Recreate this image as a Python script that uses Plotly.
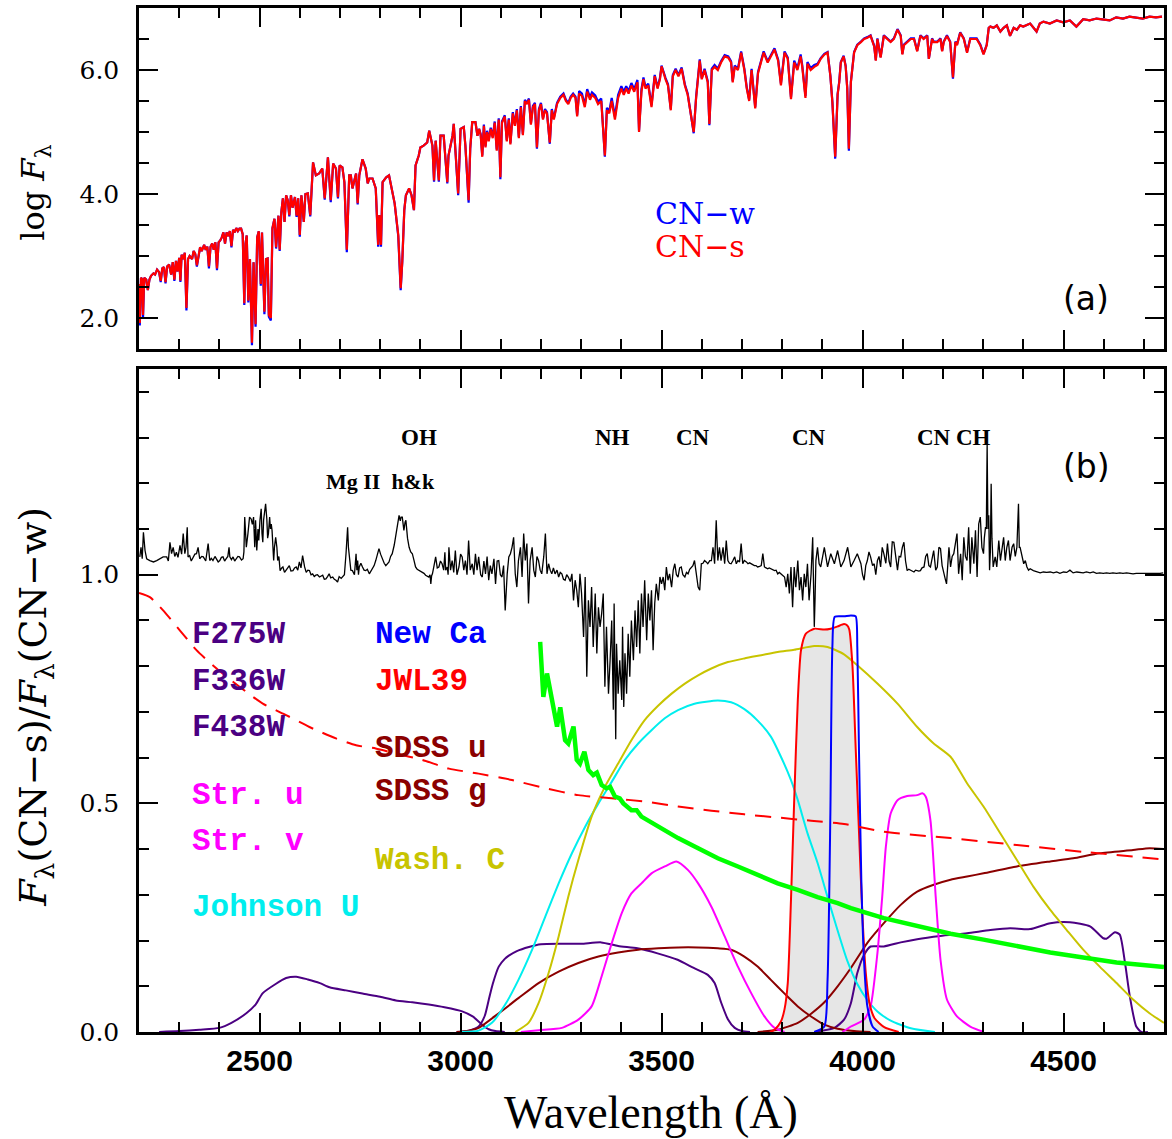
import plotly.graph_objects as go

# ---------------------------------------------------------------------------
# Panel (a): synthetic log flux of the CN-weak and CN-strong models
# ---------------------------------------------------------------------------
WAVE_TOP = [
    2200, 2202, 2205, 2208, 2210, 2213, 2218, 2222, 2226, 2230, 2236, 2240, 2245, 2250, 2254, 2258,
    2262, 2266, 2270, 2275, 2280, 2284, 2288, 2292, 2296, 2300, 2303, 2306, 2310, 2314, 2318, 2322,
    2326, 2332, 2336, 2340, 2344, 2348, 2352, 2356, 2362, 2366, 2370, 2374, 2378, 2382, 2386, 2390,
    2394, 2398, 2402, 2406, 2410, 2414, 2418, 2422, 2426, 2430, 2434, 2438, 2442, 2446, 2450, 2454,
    2458, 2462, 2465, 2468, 2472, 2476, 2481, 2485, 2490, 2494, 2498, 2503, 2506, 2512, 2516, 2520,
    2523, 2528, 2532, 2537, 2541, 2547, 2550, 2554, 2558, 2562, 2566, 2570, 2574, 2578, 2582, 2588,
    2592, 2596, 2600, 2604, 2610, 2614, 2620, 2626, 2633, 2640, 2648, 2656, 2662, 2670, 2677, 2683,
    2690, 2695, 2699, 2706, 2711, 2717, 2723, 2727, 2731, 2740, 2744, 2748, 2756, 2764, 2769, 2773,
    2781, 2789, 2795, 2798, 2802, 2806, 2815, 2822, 2830, 2836, 2845, 2851, 2855, 2860, 2864, 2872,
    2878, 2884, 2888, 2896, 2900, 2908, 2917, 2922, 2930, 2934, 2938, 2946, 2950, 2958, 2967, 2970,
    2980, 2983, 2988, 2994, 3000, 3008, 3012, 3020, 3024, 3029, 3037, 3042, 3046, 3050, 3054, 3058,
    3062, 3066, 3070, 3075, 3080, 3085, 3090, 3095, 3099, 3103, 3110, 3115, 3120, 3124, 3130, 3135,
    3140, 3145, 3150, 3155, 3160, 3165, 3170, 3175, 3180, 3185, 3190, 3195, 3200, 3205, 3210, 3215,
    3222, 3227, 3232, 3240, 3248, 3256, 3262, 3268, 3274, 3280, 3286, 3290, 3295, 3302, 3309, 3315,
    3322, 3327, 3335, 3342, 3350, 3359, 3364, 3370, 3376, 3384, 3392, 3400, 3406, 3412, 3418, 3425,
    3432, 3440, 3444, 3450, 3455, 3460, 3467, 3475, 3483, 3490, 3496, 3500, 3510, 3516, 3523, 3528,
    3535, 3542, 3550, 3558, 3565, 3580, 3586, 3595, 3600, 3607, 3615, 3619, 3625, 3632, 3640, 3648,
    3657, 3666, 3673, 3677, 3682, 3690, 3698, 3706, 3712, 3718, 3724, 3733, 3740, 3748, 3754, 3764,
    3772, 3781, 3790, 3797, 3806, 3814, 3822, 3830, 3838, 3846, 3850, 3858, 3863, 3871, 3880, 3888,
    3896, 3905, 3913, 3920, 3925, 3932, 3938, 3942, 3946, 3953, 3958, 3962, 3966, 3971, 3979, 3987,
    3996, 4004, 4012, 4020, 4029, 4033, 4037, 4045, 4053, 4062, 4070, 4078, 4087, 4095, 4099, 4103,
    4111, 4120, 4128, 4136, 4144, 4152, 4161, 4165, 4173, 4177, 4186, 4194, 4198, 4202, 4210, 4218,
    4225, 4231, 4235, 4243, 4252, 4260, 4268, 4276, 4284, 4293, 4301, 4309, 4314, 4318, 4326, 4334,
    4343, 4351, 4359, 4367, 4376, 4384, 4392, 4400, 4417, 4433, 4441, 4450, 4466, 4483, 4499, 4516,
    4532, 4549, 4565, 4582, 4598, 4615, 4631, 4648, 4664, 4681, 4697, 4714, 4730, 4745,
]

LOGF_CNS = [
    2.55, 1.92, 2.65, 2.62, 2.05, 2.65, 2.62, 2.45, 2.62, 2.68, 2.72, 2.70, 2.78, 2.74, 2.60, 2.80,
    2.82, 2.58, 2.83, 2.86, 2.70, 2.90, 2.62, 2.92, 2.75, 2.97, 2.60, 3.02, 2.95, 3.05, 2.16, 2.95,
    3.00, 2.95, 3.08, 3.03, 2.85, 3.02, 3.14, 3.08, 3.18, 3.10, 3.15, 2.83, 3.15, 3.20, 3.10, 3.22,
    2.80, 3.22, 3.25, 3.30, 3.38, 3.20, 3.38, 3.32, 3.40, 3.16, 3.42, 3.38, 3.45, 3.40, 3.44, 3.44,
    3.35, 2.24, 3.20, 3.33, 2.28, 2.95, 1.60, 2.90, 1.90, 3.30, 3.40, 2.55, 3.38, 2.10, 2.95, 2.96,
    2.05, 2.00, 3.45, 3.60, 3.14, 3.65, 3.10, 3.70, 3.93, 3.55, 3.98, 3.90, 3.66, 3.98, 3.78, 3.95,
    3.65, 3.93, 3.34, 3.98, 3.55, 4.00, 4.01, 3.66, 4.51, 4.30, 4.33, 4.41, 3.93, 4.59, 3.90, 4.49,
    4.41, 3.95, 4.46, 4.43, 4.19, 3.10, 4.30, 4.30, 4.09, 4.33, 3.85, 4.30, 4.56, 4.41, 4.17, 4.25,
    4.25, 4.09, 3.18, 3.66, 3.18, 4.19, 4.27, 4.30, 4.03, 3.85, 3.34, 2.48, 2.91, 3.74, 3.98, 4.09,
    3.98, 3.74, 4.46, 4.62, 4.75, 4.78, 4.83, 5.02, 4.78, 4.22, 4.86, 4.22, 4.94, 4.94, 4.19, 4.62,
    4.94, 5.13, 4.62, 4.01, 5.05, 5.08, 4.78, 3.90, 4.73, 5.16, 5.16, 4.94, 5.05, 4.95, 4.60, 5.10,
    4.75, 5.00, 4.85, 5.05, 4.90, 5.15, 4.70, 5.20, 4.27, 5.15, 5.25, 4.85, 5.20, 4.80, 5.30, 5.10,
    5.35, 4.90, 5.40, 4.95, 5.50, 5.45, 5.52, 5.12, 5.40, 5.45, 4.75, 5.35, 5.45, 5.20, 5.35, 5.30,
    4.83, 5.35, 5.20, 5.45, 5.55, 5.60, 5.50, 5.45, 5.55, 5.60, 5.55, 5.25, 5.62, 5.58, 5.40, 5.65,
    5.52, 5.60, 5.55, 5.45, 5.50, 4.62, 5.35, 5.30, 5.50, 5.20, 5.55, 5.70, 5.60, 5.70, 5.62, 5.75,
    5.65, 5.80, 5.00, 5.65, 5.85, 5.70, 5.75, 5.40, 5.90, 5.70, 5.85, 6.06, 5.85, 5.75, 5.35, 5.90,
    6.00, 5.90, 6.02, 5.75, 5.60, 5.00, 5.55, 6.15, 5.85, 6.00, 5.80, 5.13, 6.00, 6.05, 6.00, 6.12,
    6.22, 6.20, 6.12, 5.80, 6.05, 6.00, 6.28, 6.00, 5.70, 5.50, 6.00, 5.38, 5.95, 6.12, 6.28, 6.12,
    6.22, 6.33, 6.15, 5.75, 6.28, 6.18, 5.53, 6.12, 6.00, 6.22, 6.05, 5.55, 6.10, 6.00, 6.05, 6.08,
    6.18, 6.25, 6.28, 5.90, 5.48, 4.60, 5.60, 5.80, 6.12, 6.22, 6.06, 5.70, 4.73, 5.80, 6.28, 6.40,
    6.45, 6.50, 6.52, 6.55, 6.38, 6.15, 6.50, 6.20, 6.55, 6.50, 6.45, 6.50, 6.65, 6.55, 6.25, 6.40,
    6.45, 6.50, 6.50, 6.30, 6.55, 6.50, 6.55, 6.18, 6.50, 6.45, 6.45, 6.50, 6.30, 6.45, 6.55, 6.45,
    5.88, 6.45, 6.40, 6.60, 6.50, 6.28, 6.50, 6.50, 6.50, 6.40, 6.25, 6.40, 6.68, 6.70, 6.68, 6.72,
    6.62, 6.68, 6.72, 6.55, 6.68, 6.65, 6.72, 6.70, 6.75, 6.62, 6.75, 6.78, 6.75, 6.80, 6.77, 6.80,
    6.70, 6.82, 6.80, 6.83, 6.82, 6.80, 6.85, 6.83, 6.86, 6.85, 6.83, 6.86, 6.85, 6.86,
]

LOGF_CNW = [
    2.55, 1.88, 2.65, 2.62, 2.00, 2.65, 2.62, 2.45, 2.62, 2.68, 2.72, 2.70, 2.78, 2.74, 2.58, 2.80,
    2.82, 2.56, 2.83, 2.86, 2.70, 2.90, 2.60, 2.92, 2.75, 2.97, 2.58, 3.02, 2.95, 3.05, 2.12, 2.95,
    3.00, 2.95, 3.08, 3.03, 2.83, 3.02, 3.14, 3.08, 3.18, 3.10, 3.15, 2.80, 3.15, 3.20, 3.10, 3.22,
    2.77, 3.22, 3.25, 3.30, 3.38, 3.20, 3.38, 3.32, 3.40, 3.14, 3.42, 3.38, 3.45, 3.40, 3.44, 3.44,
    3.35, 2.21, 3.20, 3.33, 2.25, 2.95, 1.56, 2.90, 1.86, 3.30, 3.40, 2.52, 3.38, 2.06, 2.95, 2.96,
    2.02, 1.96, 3.45, 3.60, 3.12, 3.65, 3.08, 3.70, 3.93, 3.55, 3.98, 3.90, 3.64, 3.98, 3.78, 3.95,
    3.63, 3.93, 3.31, 3.98, 3.55, 4.00, 4.01, 3.64, 4.51, 4.30, 4.33, 4.41, 3.91, 4.59, 3.87, 4.49,
    4.41, 3.93, 4.46, 4.43, 4.19, 3.06, 4.30, 4.30, 4.09, 4.33, 3.83, 4.30, 4.56, 4.41, 4.17, 4.25,
    4.25, 4.09, 3.15, 3.66, 3.15, 4.19, 4.27, 4.30, 4.03, 3.85, 3.32, 2.45, 2.91, 3.74, 3.98, 4.09,
    3.98, 3.74, 4.46, 4.62, 4.75, 4.78, 4.83, 5.02, 4.78, 4.20, 4.86, 4.20, 4.94, 4.94, 4.17, 4.62,
    4.94, 5.13, 4.62, 3.98, 5.05, 5.08, 4.78, 3.86, 4.73, 5.16, 5.16, 4.94, 5.05, 4.97, 4.62, 5.12,
    4.77, 5.02, 4.87, 5.07, 4.92, 5.17, 4.72, 5.22, 4.24, 5.17, 5.27, 4.87, 5.22, 4.82, 5.32, 5.12,
    5.37, 4.92, 5.42, 4.97, 5.52, 5.47, 5.54, 5.14, 5.42, 5.47, 4.73, 5.37, 5.47, 5.22, 5.37, 5.32,
    4.81, 5.37, 5.22, 5.47, 5.57, 5.62, 5.52, 5.47, 5.57, 5.62, 5.57, 5.27, 5.66, 5.62, 5.44, 5.69,
    5.56, 5.64, 5.59, 5.49, 5.54, 4.60, 5.39, 5.34, 5.55, 5.25, 5.60, 5.74, 5.65, 5.74, 5.66, 5.79,
    5.69, 5.84, 5.02, 5.69, 5.88, 5.73, 5.78, 5.43, 5.92, 5.72, 5.87, 6.07, 5.87, 5.77, 5.37, 5.92,
    6.02, 5.92, 6.04, 5.77, 5.62, 4.98, 5.57, 6.17, 5.87, 6.02, 5.82, 5.11, 6.02, 6.08, 6.02, 6.14,
    6.24, 6.22, 6.14, 5.82, 6.07, 6.02, 6.30, 6.02, 5.72, 5.52, 6.02, 5.40, 5.97, 6.14, 6.30, 6.14,
    6.24, 6.35, 6.17, 5.78, 6.30, 6.20, 5.56, 6.15, 6.03, 6.25, 6.08, 5.58, 6.13, 6.03, 6.08, 6.10,
    6.19, 6.26, 6.29, 5.91, 5.49, 4.57, 5.61, 5.81, 6.13, 6.23, 6.07, 5.71, 4.70, 5.81, 6.29, 6.41,
    6.46, 6.51, 6.53, 6.56, 6.39, 6.16, 6.51, 6.21, 6.56, 6.51, 6.46, 6.51, 6.66, 6.56, 6.26, 6.41,
    6.46, 6.51, 6.51, 6.31, 6.56, 6.51, 6.56, 6.18, 6.51, 6.46, 6.46, 6.51, 6.31, 6.46, 6.56, 6.46,
    5.86, 6.46, 6.41, 6.61, 6.51, 6.29, 6.51, 6.51, 6.51, 6.41, 6.26, 6.41, 6.68, 6.70, 6.68, 6.72,
    6.62, 6.68, 6.72, 6.55, 6.68, 6.65, 6.72, 6.70, 6.75, 6.62, 6.75, 6.78, 6.75, 6.80, 6.77, 6.80,
    6.70, 6.82, 6.80, 6.83, 6.82, 6.80, 6.85, 6.83, 6.86, 6.85, 6.83, 6.86, 6.85, 6.86,
]

# ---------------------------------------------------------------------------
# Panel (b): flux ratio CN-s / CN-w
# ---------------------------------------------------------------------------
WAVE_RATIO = [
    2202, 2205, 2208, 2211, 2215, 2219, 2227, 2236, 2244, 2252, 2260, 2269, 2273, 2277, 2281, 2285,
    2289, 2293, 2297, 2302, 2306, 2310, 2314, 2317, 2320, 2322, 2326, 2330, 2335, 2339, 2343, 2347,
    2351, 2356, 2360, 2366, 2372, 2376, 2380, 2384, 2389, 2393, 2397, 2401, 2405, 2409, 2413, 2417,
    2421, 2424, 2426, 2430, 2434, 2438, 2442, 2446, 2450, 2455, 2459, 2461, 2463, 2465, 2467, 2471,
    2475, 2479, 2482, 2485, 2488, 2490, 2493, 2496, 2498, 2501, 2504, 2506, 2508, 2510, 2512, 2515,
    2518, 2520, 2522, 2525, 2527, 2529, 2531, 2535, 2537, 2540, 2543, 2545, 2548, 2551, 2555, 2558,
    2562, 2566, 2570, 2574, 2578, 2583, 2587, 2591, 2595, 2599, 2603, 2607, 2610, 2612, 2616, 2620,
    2624, 2628, 2632, 2636, 2640, 2644, 2649, 2653, 2657, 2661, 2665, 2669, 2673, 2677, 2682, 2686,
    2690, 2694, 2698, 2703, 2707, 2711, 2715, 2717, 2719, 2721, 2723, 2727, 2731, 2736, 2740, 2742,
    2744, 2746, 2748, 2752, 2756, 2760, 2764, 2768, 2773, 2777, 2781, 2785, 2789, 2793, 2797, 2801,
    2806, 2810, 2814, 2818, 2822, 2826, 2830, 2835, 2839, 2843, 2847, 2850, 2852, 2855, 2857, 2859,
    2862, 2864, 2868, 2872, 2876, 2880, 2884, 2888, 2892, 2897, 2901, 2905, 2909, 2913, 2917, 2921,
    2924, 2926, 2928, 2930, 2934, 2938, 2942, 2946, 2950, 2954, 2958, 2961, 2963, 2967, 2969, 2971,
    2975, 2979, 2983, 2987, 2991, 2996, 3000, 3004, 3008, 3012, 3016, 3020, 3024, 3029, 3033, 3037,
    3041, 3045, 3050, 3054, 3058, 3062, 3066, 3070, 3074, 3078, 3083, 3087, 3091, 3095, 3099, 3103,
    3107, 3111, 3116, 3120, 3124, 3128, 3132, 3136, 3140, 3144, 3149, 3153, 3157, 3161, 3165, 3169,
    3173, 3178, 3182, 3186, 3190, 3194, 3198, 3202, 3207, 3211, 3215, 3219, 3223, 3227, 3231, 3235,
    3240, 3244, 3248, 3252, 3256, 3260, 3264, 3268, 3273, 3277, 3281, 3285, 3289, 3293, 3297, 3301,
    3306, 3310, 3314, 3318, 3322, 3326, 3330, 3335, 3339, 3343, 3347, 3351, 3355, 3359, 3363, 3368,
    3372, 3376, 3380, 3382, 3386, 3388, 3392, 3396, 3401, 3403, 3406, 3409, 3413, 3417, 3421, 3425,
    3430, 3434, 3438, 3442, 3446, 3450, 3454, 3458, 3463, 3467, 3471, 3475, 3479, 3483, 3487, 3492,
    3496, 3500, 3504, 3508, 3512, 3516, 3520, 3525, 3529, 3533, 3537, 3541, 3545, 3549, 3553, 3558,
    3562, 3566, 3570, 3574, 3578, 3582, 3587, 3591, 3595, 3599, 3603, 3607, 3611, 3615, 3620, 3624,
    3628, 3632, 3636, 3638, 3640, 3644, 3648, 3653, 3657, 3661, 3665, 3669, 3673, 3677, 3682, 3686,
    3690, 3694, 3698, 3702, 3706, 3711, 3715, 3719, 3723, 3727, 3731, 3735, 3739, 3744, 3748, 3752,
    3756, 3760, 3764, 3768, 3772, 3777, 3781, 3785, 3789, 3793, 3797, 3802, 3806, 3810, 3814, 3818,
    3822, 3826, 3830, 3834, 3839, 3843, 3847, 3851, 3855, 3859, 3863, 3867, 3872, 3876, 3878, 3880,
    3882, 3884, 3888, 3892, 3896, 3905, 3913, 3921, 3930, 3938, 3946, 3954, 3963, 3971, 3979, 3987,
    3996, 4000, 4004, 4008, 4012, 4016, 4020, 4025, 4029, 4033, 4037, 4041, 4045, 4049, 4053, 4058,
    4062, 4066, 4070, 4074, 4078, 4082, 4087, 4091, 4095, 4099, 4103, 4107, 4111, 4115, 4120, 4124,
    4128, 4132, 4136, 4140, 4144, 4148, 4153, 4157, 4161, 4165, 4169, 4173, 4177, 4182, 4186, 4190,
    4194, 4198, 4202, 4206, 4209, 4212, 4215, 4219, 4223, 4227, 4231, 4235, 4239, 4244, 4248, 4252,
    4256, 4260, 4264, 4268, 4272, 4277, 4281, 4285, 4289, 4293, 4297, 4301, 4303, 4306, 4308, 4310,
    4312, 4314, 4316, 4318, 4320, 4322, 4325, 4330, 4334, 4339, 4343, 4347, 4351, 4355, 4359, 4363,
    4367, 4372, 4376, 4380, 4384, 4388, 4390, 4392, 4396, 4401, 4405, 4409, 4413, 4417, 4425, 4434,
    4442, 4450, 4458, 4467, 4475, 4483, 4491, 4500, 4508, 4516, 4524, 4533, 4541, 4549, 4557, 4566,
    4574, 4582, 4590, 4599, 4607, 4615, 4623, 4632, 4640, 4648, 4657, 4665, 4673, 4681, 4690, 4698,
    4706, 4715, 4723, 4731, 4740, 4748,
]

RATIO = [
    1.039, 1.060, 1.035, 1.093, 1.053, 1.035, 1.031, 1.028, 1.031, 1.035, 1.039, 1.039, 1.030, 1.071, 1.046, 1.060,
    1.040, 1.049, 1.038, 1.064, 1.045, 1.090, 1.046, 1.060, 1.104, 1.039, 1.042, 1.030, 1.039, 1.045, 1.046, 1.060,
    1.035, 1.040, 1.039, 1.030, 1.068, 1.031, 1.036, 1.031, 1.040, 1.035, 1.028, 1.031, 1.038, 1.039, 1.030, 1.035,
    1.040, 1.060, 1.039, 1.033, 1.039, 1.030, 1.035, 1.040, 1.039, 1.032, 1.035, 1.050, 1.126, 1.080, 1.060, 1.090,
    1.126, 1.122, 1.110, 1.126, 1.060, 1.119, 1.053, 1.100, 1.075, 1.120, 1.144, 1.090, 1.071, 1.120, 1.137, 1.155,
    1.122, 1.080, 1.090, 1.126, 1.100, 1.111, 1.097, 1.031, 1.060, 1.082, 1.060, 1.031, 1.040, 1.009, 1.015, 1.017,
    1.005, 1.009, 1.015, 1.020, 1.008, 1.009, 1.015, 1.017, 1.010, 1.028, 1.015, 1.042, 1.020, 1.017, 1.005, 1.010,
    1.009, 1.000, 1.002, 0.996, 0.999, 1.000, 0.995, 0.998, 0.999, 0.990, 0.991, 0.996, 1.002, 0.993, 0.995, 0.990,
    0.988, 0.984, 0.996, 0.992, 0.995, 1.000, 1.046, 1.080, 1.104, 1.060, 1.046, 1.010, 1.009, 1.000, 1.046, 1.010,
    1.031, 1.000, 1.017, 1.025, 1.017, 1.010, 1.009, 1.012, 1.002, 1.008, 1.013, 1.020, 1.031, 1.045, 1.057, 1.045,
    1.031, 1.025, 1.020, 1.023, 1.028, 1.040, 1.046, 1.065, 1.090, 1.110, 1.130, 1.118, 1.126, 1.126, 1.110, 1.097,
    1.115, 1.119, 1.080, 1.060, 1.050, 1.046, 1.032, 1.017, 1.012, 1.009, 1.008, 1.006, 1.003, 0.999, 0.996, 0.995,
    1.000, 0.980, 0.998, 1.002, 1.020, 1.039, 1.015, 1.017, 1.030, 1.024, 1.010, 1.049, 1.010, 1.017, 1.000, 1.060,
    1.010, 1.031, 1.005, 1.053, 1.000, 1.017, 1.045, 1.039, 1.010, 1.031, 1.000, 1.075, 1.010, 1.024, 1.000, 1.046,
    1.010, 1.039, 1.000, 0.995, 1.030, 1.002, 1.040, 0.988, 1.020, 1.002, 1.035, 0.980, 1.030, 1.031, 1.000, 0.995,
    1.020, 0.922, 1.002, 1.039, 1.046, 1.060, 1.082, 1.002, 0.973, 1.031, 1.060, 0.995, 1.090, 1.031, 1.068, 0.937,
    1.031, 1.060, 1.010, 0.995, 1.040, 1.031, 1.010, 1.002, 1.040, 1.090, 1.002, 1.024, 1.010, 1.002, 1.015, 1.002,
    1.010, 0.995, 1.005, 1.002, 0.990, 0.988, 1.000, 0.995, 0.985, 1.002, 0.944, 0.988, 0.966, 0.929, 1.002, 0.959,
    0.864, 0.995, 0.777, 0.944, 0.886, 0.973, 0.842, 0.959, 0.828, 0.929, 0.886, 0.915, 0.959, 0.755, 0.886, 0.740,
    0.813, 0.900, 0.705, 0.937, 0.640, 0.849, 0.740, 0.813, 0.726, 0.886, 0.711, 0.828, 0.740, 0.871, 0.777, 0.900,
    0.813, 0.922, 0.842, 0.944, 0.828, 0.959, 0.886, 0.988, 0.857, 0.959, 0.900, 0.966, 0.835, 0.937, 0.980, 0.944,
    0.995, 0.980, 0.995, 0.966, 1.017, 0.988, 1.002, 0.973, 1.010, 1.024, 1.000, 0.995, 1.015, 1.017, 1.000, 0.995,
    1.005, 1.002, 1.012, 1.017, 1.020, 1.031, 0.995, 0.973, 0.966, 1.024, 1.025, 1.031, 1.028, 1.024, 1.031, 1.031,
    1.060, 1.024, 1.119, 1.040, 1.031, 1.060, 1.031, 1.060, 1.024, 1.075, 1.031, 1.025, 1.024, 1.030, 1.039, 1.024,
    1.031, 1.028, 1.068, 1.024, 1.031, 1.028, 1.024, 1.026, 1.024, 1.022, 1.020, 1.020, 1.017, 1.018, 1.020, 1.046,
    1.017, 1.015, 1.013, 1.015, 1.013, 1.012, 1.009, 1.010, 1.002, 1.005, 1.002, 0.998, 0.995, 0.973, 1.002, 0.959,
    1.017, 0.929, 1.017, 0.973, 1.031, 0.966, 0.995, 0.944, 1.002, 0.973, 1.024, 0.944, 1.002, 1.082, 0.944, 0.886,
    0.950, 1.031, 1.060, 1.024, 1.017, 1.060, 1.017, 1.046, 1.024, 1.053, 1.017, 1.031, 1.060, 1.017, 1.031, 1.046,
    1.024, 1.000, 0.988, 1.020, 1.031, 1.050, 1.039, 1.020, 1.024, 1.000, 1.031, 1.040, 1.017, 1.060, 1.046, 1.025,
    1.068, 1.030, 1.017, 1.072, 1.071, 1.040, 1.010, 1.040, 1.039, 1.060, 1.071, 1.030, 1.009, 1.012, 1.009, 1.008,
    1.006, 1.010, 1.009, 1.008, 1.009, 1.015, 1.017, 1.040, 1.046, 1.020, 1.017, 1.040, 1.053, 1.010, 1.017, 1.060,
    1.057, 1.020, 1.002, 0.990, 0.980, 1.030, 1.060, 1.017, 1.040, 1.046, 1.070, 1.090, 1.002, 1.046, 0.988, 1.082,
    1.040, 1.031, 1.104, 1.002, 1.082, 1.024, 1.097, 0.995, 1.111, 1.126, 1.060, 1.046, 1.080, 1.104, 1.100, 1.286,
    1.100, 1.130, 1.010, 1.050, 1.199, 1.080, 1.017, 1.039, 1.017, 1.075, 1.031, 1.060, 1.082, 1.031, 1.060, 1.075,
    1.031, 1.060, 1.068, 1.040, 1.060, 1.155, 1.060, 1.060, 1.046, 1.024, 1.031, 1.017, 1.010, 1.013, 1.009, 1.006,
    1.004, 1.006, 1.005, 1.006, 1.004, 1.006, 1.003, 1.006, 1.005, 1.010, 1.004, 1.006, 1.005, 1.004, 1.006, 1.004,
    1.006, 1.003, 1.004, 1.003, 1.004, 1.003, 1.004, 1.003, 1.004, 1.003, 1.004, 1.003, 1.002, 1.003, 1.003, 1.002,
    1.003, 1.002, 1.003, 1.002, 1.003, 1.004,
]

# Spectral energy curve (dashed) and the CN-sensitivity curve (green)
DASH_WAVE = [2200, 2227, 2260, 2302, 2343, 2393, 2450, 2508, 2566, 2624, 2690, 2740, 2789, 2839, 2905, 2971,
             3045, 3128, 3211, 3293, 3376, 3458, 3541, 3624, 3706, 3789, 3872, 3954, 4053, 4219, 4384, 4549, 4750]
DASH_VAL = [0.960, 0.951, 0.922, 0.878, 0.835, 0.795, 0.755, 0.718, 0.693, 0.667, 0.642, 0.627, 0.620, 0.609, 0.595, 0.576,
            0.565, 0.551, 0.533, 0.518, 0.511, 0.504, 0.493, 0.484, 0.476, 0.469, 0.462, 0.455, 0.438, 0.424, 0.409, 0.394, 0.377]

GREEN_WAVE = [3198, 3206, 3215, 3227, 3240, 3248, 3260, 3268, 3281, 3289, 3297, 3308, 3318, 3330, 3339, 3351,
              3363, 3372, 3384, 3396, 3405, 3425, 3438, 3450, 3492, 3541, 3591, 3640, 3690, 3739, 3789, 3839,
              3888, 3938, 3971, 4053, 4136, 4219, 4301, 4384, 4467, 4549, 4632, 4750]
GREEN_VAL = [0.853, 0.733, 0.784, 0.726, 0.668, 0.710, 0.638, 0.631, 0.668, 0.595, 0.587, 0.613, 0.573, 0.562, 0.567, 0.540,
             0.533, 0.536, 0.515, 0.511, 0.500, 0.485, 0.485, 0.471, 0.449, 0.424, 0.402, 0.380, 0.362, 0.344, 0.325, 0.311,
             0.295, 0.282, 0.271, 0.249, 0.231, 0.215, 0.202, 0.187, 0.174, 0.163, 0.152, 0.142]

# ---------------------------------------------------------------------------
# Filter transmission curves
# ---------------------------------------------------------------------------
F275W_WAVE = [2250, 2300, 2350, 2400, 2430, 2467, 2490, 2508, 2540, 2566, 2591, 2620, 2650, 2674, 2715, 2756,
              2800, 2839, 2880, 2921, 2960, 3004, 3030, 3054, 3070, 3087, 3110]
F275W_T = [0.000, 0.002, 0.005, 0.009, 0.020, 0.041, 0.060, 0.085, 0.105, 0.118, 0.121, 0.115, 0.107, 0.098, 0.091, 0.084,
           0.077, 0.069, 0.065, 0.060, 0.054, 0.045, 0.034, 0.016, 0.006, 0.002, 0.000]

F336W_WAVE = [2990, 3020, 3045, 3060, 3070, 3080, 3095, 3110, 3120, 3140, 3170, 3200, 3250, 3300, 3350, 3392,
              3440, 3490, 3540, 3580, 3615, 3632, 3648, 3665, 3682, 3700, 3720]
F336W_T = [0.000, 0.003, 0.012, 0.035, 0.070, 0.105, 0.143, 0.160, 0.167, 0.177, 0.186, 0.192, 0.193, 0.193, 0.196, 0.188,
           0.183, 0.172, 0.158, 0.140, 0.125, 0.107, 0.065, 0.028, 0.009, 0.002, 0.000]

F438W_WAVE = [3880, 3930, 3954, 3971, 3987, 4004, 4020, 4053, 4095, 4136, 4194, 4260, 4318, 4367, 4417, 4467,
              4516, 4566, 4599, 4607, 4628, 4640, 4653, 4665, 4681, 4694, 4710]
F438W_T = [0.000, 0.009, 0.027, 0.063, 0.129, 0.169, 0.187, 0.187, 0.196, 0.203, 0.210, 0.216, 0.223, 0.227, 0.225, 0.238,
           0.240, 0.231, 0.205, 0.204, 0.218, 0.213, 0.151, 0.078, 0.012, 0.000, 0.000]

JOHNSON_U_WAVE = [3000, 3045, 3078, 3111, 3144, 3178, 3211, 3244, 3277, 3310, 3343, 3376, 3409, 3442, 3475, 3508,
                  3541, 3582, 3640, 3673, 3706, 3739, 3772, 3797, 3822, 3839, 3863, 3888, 3913, 3938, 3962, 3987,
                  4012, 4037, 4070, 4120, 4180]
JOHNSON_U_T = [0.000, 0.003, 0.020, 0.060, 0.114, 0.180, 0.253, 0.325, 0.391, 0.449, 0.500, 0.547, 0.595, 0.631, 0.660, 0.686,
               0.704, 0.718, 0.725, 0.721, 0.706, 0.681, 0.646, 0.602, 0.551, 0.507, 0.435, 0.370, 0.295, 0.222, 0.156, 0.105,
               0.070, 0.045, 0.025, 0.008, 0.000]

WASH_C_WAVE = [3136, 3169, 3194, 3219, 3244, 3268, 3293, 3326, 3359, 3392, 3425, 3458, 3492, 3525, 3558, 3591,
               3624, 3665, 3706, 3748, 3789, 3830, 3880, 3913, 3954, 3987, 4037, 4087, 4136, 4177, 4219, 4260,
               4301, 4343, 4384, 4425, 4467, 4508, 4549, 4590, 4632, 4673, 4714, 4750]
WASH_C_T = [0.000, 0.020, 0.063, 0.129, 0.209, 0.296, 0.376, 0.471, 0.536, 0.587, 0.638, 0.682, 0.714, 0.740, 0.762, 0.780,
            0.795, 0.809, 0.817, 0.824, 0.831, 0.836, 0.844, 0.842, 0.826, 0.802, 0.762, 0.718, 0.667, 0.631, 0.602, 0.544,
            0.493, 0.434, 0.376, 0.318, 0.267, 0.223, 0.180, 0.143, 0.107, 0.071, 0.041, 0.020]

SDSS_U_WAVE = [2990, 3020, 3045, 3095, 3144, 3194, 3244, 3293, 3343, 3392, 3442, 3492, 3541, 3591, 3640, 3673,
               3706, 3739, 3772, 3806, 3839, 3872, 3905, 3938, 3979, 4020]
SDSS_U_T = [0.000, 0.003, 0.009, 0.041, 0.074, 0.107, 0.132, 0.151, 0.165, 0.174, 0.180, 0.183, 0.185, 0.185, 0.183, 0.180,
            0.165, 0.143, 0.114, 0.084, 0.056, 0.034, 0.016, 0.007, 0.002, 0.000]

SDSS_G_WAVE = [3739, 3789, 3839, 3872, 3905, 3938, 3971, 4012, 4053, 4095, 4136, 4177, 4219, 4260, 4301, 4384,
               4467, 4524, 4590, 4673, 4714, 4750]
SDSS_G_T = [0.000, 0.005, 0.020, 0.040, 0.065, 0.100, 0.140, 0.195, 0.238, 0.278, 0.307, 0.322, 0.333, 0.340, 0.347, 0.362,
            0.373, 0.380, 0.391, 0.398, 0.402, 0.400]

STR_U_WAVE = [3150, 3194, 3252, 3293, 3326, 3351, 3376, 3401, 3425, 3450, 3475, 3508, 3537, 3566, 3591, 3624,
              3657, 3690, 3723, 3756, 3781, 3806]
STR_U_T = [0.000, 0.004, 0.009, 0.027, 0.056, 0.122, 0.194, 0.260, 0.303, 0.325, 0.347, 0.362, 0.373, 0.354, 0.325, 0.274,
           0.209, 0.143, 0.085, 0.034, 0.009, 0.000]

STR_V_WAVE = [3950, 3971, 4004, 4020, 4037, 4049, 4058, 4070, 4087, 4111, 4136, 4149, 4157, 4169, 4182, 4194,
              4210, 4235, 4268, 4301]
STR_V_T = [0.000, 0.012, 0.027, 0.056, 0.172, 0.296, 0.405, 0.478, 0.507, 0.516, 0.518, 0.522, 0.515, 0.463, 0.296, 0.158,
           0.071, 0.034, 0.012, 0.000]

JWL39_WAVE = [3770, 3781, 3797, 3806, 3814, 3822, 3830, 3839, 3847, 3859, 3880, 3905, 3921, 3938, 3954, 3962,
              3967, 3975, 3983, 3992, 4000, 4008, 4018, 4030, 4055, 4090]
JWL39_T = [0.000, 0.005, 0.023, 0.050, 0.107, 0.289, 0.507, 0.726, 0.835, 0.871, 0.882, 0.880, 0.882, 0.887, 0.892, 0.889,
           0.880, 0.800, 0.620, 0.420, 0.250, 0.130, 0.060, 0.030, 0.010, 0.000]

NEW_CA_WAVE = [3880, 3905, 3913, 3920, 3925, 3931, 3954, 3971, 3983, 3987, 3991, 3997, 4004, 4012, 4025, 4040]
NEW_CA_T = [0.000, 0.012, 0.114, 0.478, 0.842, 0.908, 0.909, 0.911, 0.909, 0.842, 0.624, 0.333, 0.151, 0.056, 0.012, 0.000]

# Colours
INDIGO = "#4b0082"
MAGENTA = "#ff00ff"
CYAN = "#00eeee"
BLUE = "#0000ff"
RED = "#ff0000"
DARKRED = "#8b0000"
OLIVE = "#c8c400"
GREEN = "#00ff00"

fig = go.Figure()

# --- panel (a) ---
fig.add_trace(go.Scatter(x=WAVE_TOP, y=LOGF_CNW, mode="lines", line=dict(color=BLUE, width=2.2),
                         xaxis="x", yaxis="y", name="CN-w"))
fig.add_trace(go.Scatter(x=WAVE_TOP, y=LOGF_CNS, mode="lines", line=dict(color=RED, width=2.2),
                         xaxis="x", yaxis="y", name="CN-s"))

# --- panel (b) ---
fig.add_trace(go.Scatter(x=JWL39_WAVE, y=JWL39_T, mode="lines", fill="tozeroy", fillcolor="#e6e6e6",
                         line=dict(width=0, color="rgba(0,0,0,0)"), xaxis="x2", yaxis="y2", hoverinfo="skip"))
fig.add_trace(go.Scatter(x=WAVE_RATIO, y=RATIO, mode="lines", line=dict(color="black", width=1.3),
                         xaxis="x2", yaxis="y2", name="ratio"))

filters = [
    (F275W_WAVE, F275W_T, INDIGO),
    (F336W_WAVE, F336W_T, INDIGO),
    (F438W_WAVE, F438W_T, INDIGO),
    (SDSS_U_WAVE, SDSS_U_T, DARKRED),
    (SDSS_G_WAVE, SDSS_G_T, DARKRED),
    (JOHNSON_U_WAVE, JOHNSON_U_T, CYAN),
    (WASH_C_WAVE, WASH_C_T, OLIVE),
    (STR_U_WAVE, STR_U_T, MAGENTA),
    (STR_V_WAVE, STR_V_T, MAGENTA),
    (JWL39_WAVE, JWL39_T, RED),
    (NEW_CA_WAVE, NEW_CA_T, BLUE),
]
for wave, thr, col in filters:
    fig.add_trace(go.Scatter(x=wave, y=thr, mode="lines", line=dict(color=col, width=2, shape="spline", smoothing=0.6),
                             xaxis="x2", yaxis="y2"))

fig.add_trace(go.Scatter(x=DASH_WAVE, y=DASH_VAL, mode="lines",
                         line=dict(color=RED, width=2, dash="16px,10px", shape="spline", smoothing=0.6),
                         xaxis="x2", yaxis="y2"))
fig.add_trace(go.Scatter(x=GREEN_WAVE, y=GREEN_VAL, mode="lines", line=dict(color=GREEN, width=4.5),
                         xaxis="x2", yaxis="y2"))

# --- axes ---
frame = dict(showline=True, linewidth=2.5, linecolor="black", mirror="allticks", ticks="inside",
             ticklen=19, tickwidth=2, tickcolor="black", showgrid=False, zeroline=False)
xminor = dict(dtick=100, ticks="inside", ticklen=10, tickwidth=2, tickcolor="black", showgrid=False)

fig.update_layout(
    width=1172, height=1139,
    margin=dict(l=139, r=6, t=5, b=107),
    paper_bgcolor="white", plot_bgcolor="white",
    showlegend=False,
    xaxis=dict(domain=[0, 1], anchor="y", range=[2200, 4750], dtick=500, tick0=0,
               showticklabels=False, minor=xminor, **frame),
    yaxis=dict(domain=[0.667, 1], anchor="x", range=[1.5, 7.0], dtick=2, tick0=0, tickformat=".1f",
               ticklabelstandoff=12,
               tickfont=dict(family="DejaVu Serif", size=25, color="black"),
               minor=dict(dtick=0.5, ticks="inside", ticklen=10, tickwidth=2, tickcolor="black", showgrid=False),
               **frame),
    xaxis2=dict(domain=[0, 1], anchor="y2", range=[2200, 4750], dtick=500, tick0=0,
                ticklabelstandoff=0,
                tickfont=dict(family="Liberation Sans", size=30, color="black", weight="bold"),
                minor=xminor, **frame),
    yaxis2=dict(domain=[0, 0.6475], anchor="x2", range=[0, 1.45], dtick=0.5, tick0=0, tickformat=".1f",
                ticklabelstandoff=12,
                tickfont=dict(family="DejaVu Serif", size=25, color="black"),
                minor=dict(dtick=0.1, ticks="inside", ticklen=10, tickwidth=2, tickcolor="black", showgrid=False),
                **frame),
)

ann = []

def label(text, x, y, color, size, family, xref="x2", yref="y2", xanchor="left", weight="normal", angle=0):
    ann.append(dict(text=text, x=x, y=y, xref=xref, yref=yref, xanchor=xanchor, yanchor="middle",
                    showarrow=False, textangle=angle,
                    font=dict(color=color, size=size, family=family, weight=weight)))

mono = "Liberation Mono, Courier New, monospace"
# Filter names
label("F275W", 2326, 0.870, INDIGO, 31, mono, weight="bold")
label("F336W", 2326, 0.767, INDIGO, 31, mono, weight="bold")
label("F438W", 2326, 0.667, INDIGO, 31, mono, weight="bold")
label("Str. u", 2326, 0.518, MAGENTA, 31, mono, weight="bold")
label("Str. v", 2326, 0.416, MAGENTA, 31, mono, weight="bold")
label("Johnson U", 2326, 0.272, CYAN, 31, mono, weight="bold")
label("New Ca", 2782, 0.870, BLUE, 31, mono, weight="bold")
label("JWL39", 2782, 0.767, RED, 31, mono, weight="bold")
label("SDSS u", 2782, 0.621, DARKRED, 31, mono, weight="bold")
label("SDSS g", 2782, 0.525, DARKRED, 31, mono, weight="bold")
label("Wash. C", 2782, 0.376, OLIVE, 31, mono, weight="bold")

# Molecular band identifications
serif = "Liberation Serif, DejaVu Serif, serif"
label("OH", 2897, 1.300, "black", 23, serif, xanchor="center", weight="bold")
label("Mg II  h&amp;k", 2800, 1.204, "black", 22, serif, xanchor="center", weight="bold")
label("NH", 3377, 1.300, "black", 23, serif, xanchor="center", weight="bold")
label("CN", 3578, 1.300, "black", 23, serif, xanchor="center", weight="bold")
label("CN", 3868, 1.300, "black", 23, serif, xanchor="center", weight="bold")
label("CN CH", 4228, 1.300, "black", 23, serif, xanchor="center", weight="bold")

# Panel tags
label("(b)", 4557, 1.237, "black", 33, "DejaVu Sans", xanchor="center")
label("(a)", 4557, 2.32, "black", 33, "DejaVu Sans", xref="x", yref="y", xanchor="center")

# Model names in panel (a)
label("CN−w", 3479, 3.68, BLUE, 30, "DejaVu Serif", xref="x", yref="y")
label("CN−s", 3479, 3.15, RED, 30, "DejaVu Serif", xref="x", yref="y")

# Axis titles
label("log <i>F</i><sub>λ</sub>", -0.101, 0.82, "black", 32, "DejaVu Serif",
      xref="paper", yref="paper", xanchor="center", angle=-90)
label("<i>F</i><sub>λ</sub>(CN−s)/<i>F</i><sub>λ</sub>(CN−w)", -0.101, 0.318, "black", 38, "DejaVu Serif",
      xref="paper", yref="paper", xanchor="center", angle=-90)
label("Wavelength (Å)", 0.4995, -0.079, "black", 46, "Liberation Serif, DejaVu Serif",
      xref="paper", yref="paper", xanchor="center")

fig.update_layout(annotations=ann)
fig.write_html("out.html")
